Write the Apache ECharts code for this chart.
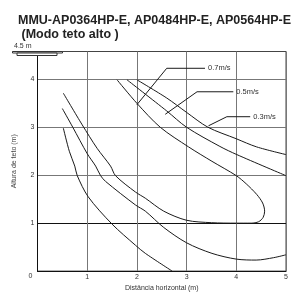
<!DOCTYPE html>
<html>
<head>
  <meta charset="utf-8">
  <title>MMU-AP0364HP-E (Modo teto alto)</title>
  <script src="https://cdn.jsdelivr.net/npm/echarts@6/dist/echarts.min.js"></script>
  <style>
    html, body { margin: 0; padding: 0; background: #fff; }
    #main { width: 301px; height: 297px; }
  </style>
</head>
<body>
  <div id="main"></div>
  <script type="text/javascript">
    // ticks
    var xTicks = [0, 1, 2, 3, 4, 5];
    var yTicks = [0, 1, 2, 3, 4];

    // 0.7 m/s contour (one loop: left branch -> bottom -> nose -> back to ceiling)
    var v07 = [[0.52, 3.71], [0.9, 3.05], [1.2, 2.56], [1.47, 2.19], [1.57, 1.99], [1.97, 1.65],
      [2.17, 1.52], [2.54, 1.25], [3.0, 1.06], [3.5, 1.01], [4.0, 1.0], [4.3, 1.0], [4.45, 1.03],
      [4.54, 1.12], [4.57, 1.25], [4.53, 1.42], [4.41, 1.6], [4.2, 1.82], [4.0, 1.99],
      [3.51, 2.29], [3.04, 2.59], [2.47, 3.0], [2.0, 3.5], [1.6, 3.99]];

    // 0.5 m/s contour
    var v05Low = [[0.5, 3.39], [0.71, 3.0], [1.0, 2.45], [1.17, 2.19], [1.27, 1.99], [1.37, 1.87],
      [1.97, 1.38], [2.17, 1.25], [2.54, 0.91], [3.0, 0.59], [3.51, 0.37], [4.0, 0.25],
      [4.4, 0.23], [4.75, 0.28], [5.0, 0.34]];
    var v05Up = [[1.8, 3.99], [2.6, 3.34], [3.0, 3.0], [3.67, 2.6], [4.01, 2.43], [5.0, 1.99]];

    // 0.3 m/s contour
    var v03Low = [[0.52, 2.98], [0.64, 2.5], [0.75, 2.19], [0.8, 1.99], [1.02, 1.55], [1.5, 0.98],
      [1.97, 0.54], [2.17, 0.37], [2.71, 0.0]];
    var v03Up = [[2.0, 3.99], [2.6, 3.61], [3.0, 3.31], [3.43, 3.0], [4.0, 2.76], [4.41, 2.59], [5.0, 2.43]];

    // leader lines for the labels
    var lead07 = [[2.0, 3.47], [2.6, 4.23], [3.37, 4.23]];
    var lead05 = [[2.57, 3.27], [3.21, 3.74], [3.94, 3.74]];
    var lead03 = [[3.44, 3.03], [3.81, 3.22], [4.28, 3.22]];

    var myChart = echarts.init(document.getElementById('main'));

    var font = 'Liberation Sans, Arial, sans-serif';

    function curve(name, data) {
      return {
        name: name,
        type: 'line',
        data: data,
        smooth: 0.3,
        showSymbol: false,
        symbol: 'none',
        silent: true,
        lineStyle: { color: '#1a1a1a', width: 1 },
        z: 3
      };
    }

    function leader(name, data) {
      return {
        name: name,
        type: 'line',
        data: data,
        showSymbol: false,
        symbol: 'none',
        silent: true,
        lineStyle: { color: '#1a1a1a', width: 1 },
        endLabel: {
          show: true,
          formatter: '{a}',
          distance: 3,
          fontSize: 7.5,
          fontFamily: font,
          color: '#333'
        },
        z: 4
      };
    }

    var option = {
      animation: false,
      backgroundColor: '#fff',
      title: {
        text: 'MMU-AP0364HP-E, AP0484HP-E, AP0564HP-E\n (Modo teto alto )',
        left: 13,
        top: 8,
        textStyle: {
          fontSize: 12.5,
          fontWeight: 'bold',
          fontFamily: font,
          color: '#222',
          lineHeight: 14.5
        }
      },
      grid: {
        left: 37.5,
        right: 15,
        top: 51.5,
        bottom: 18.7,
        show: true,
        borderColor: '#444',
        borderWidth: 1
      },
      xAxis: {
        type: 'value',
        min: xTicks[0],
        max: xTicks[xTicks.length - 1],
        interval: 1,
        name: 'Distância horizontal (m)',
        nameLocation: 'middle',
        nameGap: 11,
        nameTextStyle: { fontSize: 7, fontFamily: font, color: '#333' },
        axisLine: { lineStyle: { color: '#111', width: 1 } },
        axisTick: { show: false },
        axisLabel: {
          fontSize: 7, fontFamily: font, color: '#333', margin: 2,
          formatter: function (v) { return v === 0 ? '' : String(v); }
        },
        splitLine: { show: true, lineStyle: { color: '#777', width: 1 } }
      },
      yAxis: {
        type: 'value',
        min: yTicks[0],
        max: 4.58,
        interval: 1,
        name: 'Altura de teto (m)',
        nameLocation: 'middle',
        nameGap: 19,
        nameTextStyle: { fontSize: 7, fontFamily: font, color: '#444' },
        axisLine: { lineStyle: { color: '#111', width: 1 } },
        axisTick: { show: false },
        axisLabel: {
          fontSize: 7, fontFamily: font, color: '#333', margin: 3,
          formatter: function (v) {
            if (yTicks.indexOf(v) < 0) return '';
            return v === 0 ? '{z|0}' : String(v);
          },
          rich: { z: { fontSize: 7, fontFamily: font, color: '#333', padding: [10, 2, 0, 0] } }
        },
        splitLine: {
          show: true,
          lineStyle: { color: ['#777', '#111', '#777', '#777', '#777', '#444'], width: 1 }
        }
      },
      graphic: [
        { type: 'line', shape: { x1: 12.5, y1: 51.5, x2: 38, y2: 51.5 }, style: { stroke: '#333', lineWidth: 1 }, z: 10 },
        { type: 'rect', shape: { x: 12.5, y: 51.5, width: 50, height: 1.5 }, style: { fill: '#fff', stroke: '#333', lineWidth: 1 }, z: 10 },
        { type: 'rect', shape: { x: 17, y: 53, width: 40, height: 2.5 }, style: { fill: '#fff', stroke: '#333', lineWidth: 1 }, z: 10 },
        { type: 'text', left: 14, top: 43, style: { text: '4.5 m', fontSize: 7, fontFamily: font, fill: '#333' }, z: 10 }
      ],
      series: [
        curve('0.7', v07),
        curve('0.5a', v05Low),
        curve('0.5b', v05Up),
        curve('0.3a', v03Low),
        curve('0.3b', v03Up),
        leader('0.7m/s', lead07),
        leader('0.5m/s', lead05),
        leader('0.3m/s', lead03)
      ]
    };

    myChart.setOption(option);
  </script>
</body>
</html>
